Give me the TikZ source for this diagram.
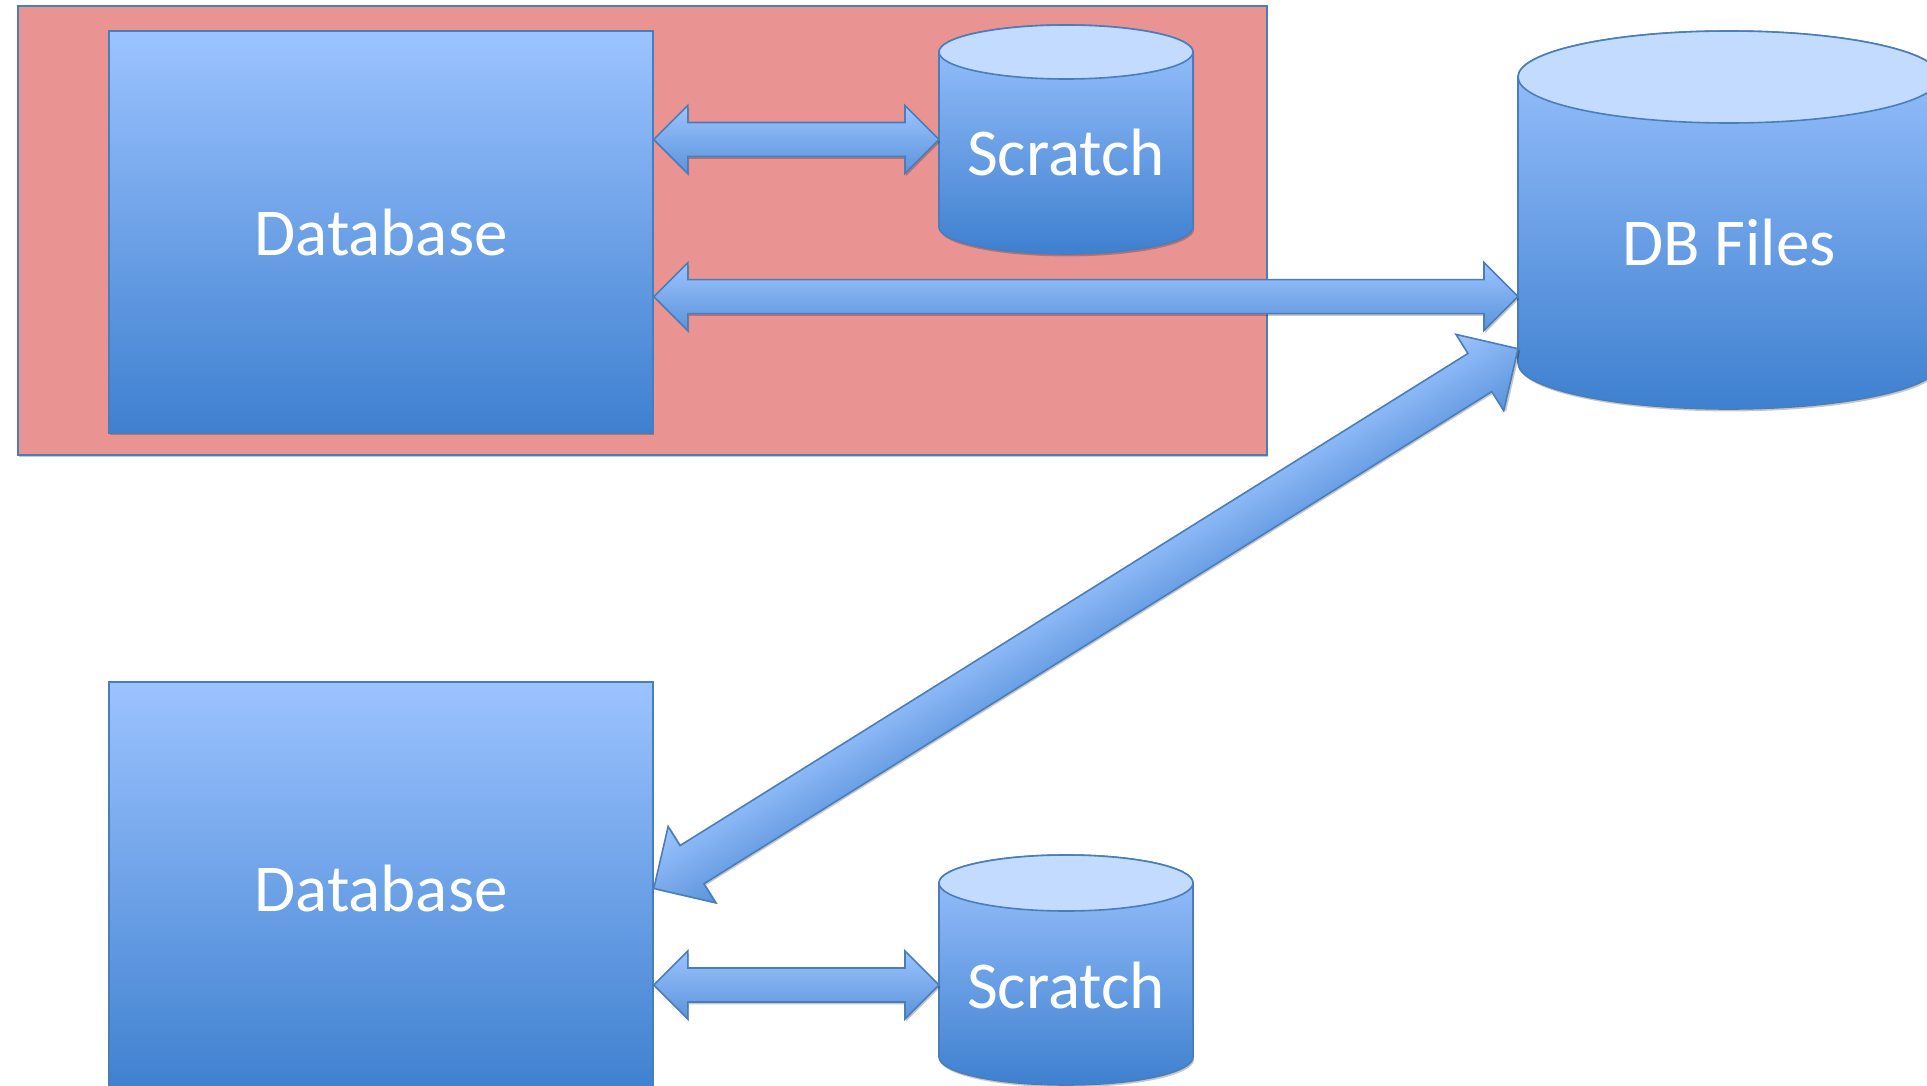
\documentclass[tikz,border=0pt]{standalone}
\usepackage{fontspec}
\setmainfont{Carlito}
\usetikzlibrary{calc,shadows}
\definecolor{edge}{HTML}{4A7EBB}
\definecolor{boxhi}{HTML}{9CC3FF}
\definecolor{boxlo}{HTML}{3E80CF}
\definecolor{caphi}{HTML}{C2DBFF}
\definecolor{arrhi}{HTML}{9DC4FF}
\definecolor{arrlo}{HTML}{5A93DB}
\definecolor{host}{HTML}{E99392}

\tikzset{
  softshadow/.style={drop shadow={shadow xshift=0.6pt,shadow yshift=-1.2pt,opacity=0.22,fill=black}},
  lbl/.style={text=white,font=\fontsize{33.5}{40}\selectfont},
  hostbox/.style={draw=edge,line width=0.8pt,fill=host,softshadow,inner sep=0pt},
  dbbox/.style={draw=edge,line width=0.8pt,top color=boxhi,bottom color=boxlo,softshadow,lbl,inner sep=0pt},
  cylspan/.style={inner sep=0pt,outer sep=0pt},
  cylbody/.style={draw=edge,line width=0.8pt,top color=boxhi,bottom color=boxlo,softshadow},
  cylcap/.style={draw=edge,line width=0.8pt,fill=caphi},
  arrowbody/.style={draw=edge,line width=0.8pt,top color=arrhi,bottom color=arrlo,softshadow},
}

% cylinder round a span node: name, x radius, y radius
\newcommand{\cylinder}[3]{%
  \draw[cylbody] (#1.north west) -- (#1.south west)
    arc[start angle=180,end angle=360,x radius=#2,y radius=#3] -- (#1.north east)
    arc[start angle=0,end angle=180,x radius=#2,y radius=#3] -- cycle;
  \draw[cylcap] (#1.north) ellipse[x radius=#2,y radius=#3];}

% block arrow: from, to, shaft half width, head half width, head length (pt)
\newcommand{\blockarrow}[5]{%
  \path let \p1=(#1), \p2=(#2), \n1={atan2(\y2-\y1,\x2-\x1)}, \n2={veclen(\x2-\x1,\y2-\y1)}
    in \pgfextra{\xdef\arrang{\n1}\xdef\arrlen{\n2}};
  \begin{scope}[transform canvas={shift={(#1)},rotate=\arrang}]
    \draw[arrowbody] (0pt,0pt) -- (#5pt,#4pt) -- (#5pt,#3pt) -- ({\arrlen-#5pt},#3pt)
      -- ({\arrlen-#5pt},#4pt) -- (\arrlen,0pt) -- ({\arrlen-#5pt},-#4pt)
      -- ({\arrlen-#5pt},-#3pt) -- (#5pt,-#3pt) -- (#5pt,-#4pt) -- cycle;
  \end{scope}}

\begin{document}
\begin{tikzpicture}[x=0.5pt,y=0.5pt]
  \path[use as bounding box,fill=white] (0,0) rectangle (1927,-1086);

  % host with its database and scratch
  \node[hostbox,minimum width=624.5pt,minimum height=224.5pt] (host) at (642.5,-230.5) {};
  \node[dbbox,minimum width=272pt,minimum height=201pt] (db1) at (381,-232) {Database};
  \node[cylspan,minimum width=127pt,minimum height=87.5pt] (scr1) at (1066,-139.5) {};
  \cylinder{scr1}{127}{27}
  \node[lbl] (scr1txt) at ([yshift=-6.25pt]scr1.center) {Scratch};

  % shared files
  \node[cylspan,minimum width=211pt,minimum height=143pt] (files) at (1729,-220) {};
  \cylinder{files}{211}{46}
  \node[lbl] (filestxt) at ([yshift=-11pt]files.center) {DB Files};

  % second database and scratch
  \node[dbbox,minimum width=272pt,minimum height=206.5pt] (db2) at (381,-888.5) {Database};
  \node[cylspan,minimum width=127pt,minimum height=87pt] (scr2) at (1066,-970) {};
  \cylinder{scr2}{127}{28}
  \node[lbl] (scr2txt) at ([yshift=-7.5pt]scr2.center) {Scratch};

  \coordinate (l1) at ($(db1.north east)!0.66!(db1.south east)$);
  \coordinate (d1) at ($(files.north west)!0.95!(files.south west)$);

  \blockarrow{db1.east |- scr1.west}{scr1.west}{8.5}{17}{17}
  \blockarrow{l1}{files.west |- l1}{8.5}{17}{17}
  \blockarrow{db2.east}{d1}{11.25}{22.5}{22.5}
  \blockarrow{db2.east |- scr2txt}{scr2.west |- scr2txt}{8.5}{17}{17}
\end{tikzpicture}
\end{document}
